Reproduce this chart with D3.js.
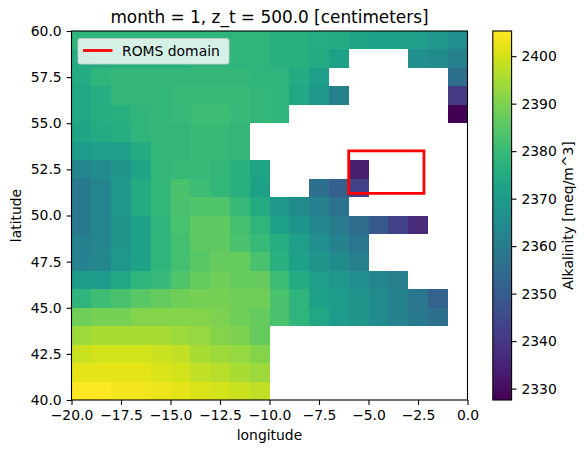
<!DOCTYPE html>
<html>
<head>
<meta charset="utf-8">
<script src="https://cdn.jsdelivr.net/npm/d3@7"></script>
<style>
  html, body { margin: 0; padding: 0; background: #fff; }
  svg { display: block; }
  text { font-family: "DejaVu Sans", sans-serif; fill: #000; }
</style>
</head>
<body>
<svg id="chart" width="586" height="454"></svg>
<script>
// Cell edges of the 1-degree grid
const lonEdges = d3.range(-20, 1, 1);
const latEdges = d3.range(60, 39, -1);

// Alkalinity per cell, north to south, west to east; null = land
const _ = null;
const row60 = [2378,2378,2378,2378,2378,2378,2378,2378,2378,2378,2377,2377,2376,2375,2373,2372,2372,2371,2369,2366];
const row59 = [2375,2376,2377,2377,2377,2377,2378,2378,2378,2378,2377,2377,2375,2372,_,_,_,2366,2365,2362];
const row58 = [2375,2378,2379,2379,2379,2379,2379,2379,2379,2378,2378,2375,2371,_,_,_,_,_,_,2356];
const row57 = [2374,2376,2379,2379,2379,2380,2380,2380,2380,2379,2378,2374,2369,2361,_,_,_,_,_,2341];
const row56 = [2374,2376,2377,2378,2379,2380,2381,2381,2380,2379,2378,_,_,_,_,_,_,_,_,2327.6];
const row55 = [2373,2375,2376,2378,2379,2379,2380,2380,2379,_,_,_,_,_,_,_,_,_,_,_];
const row54 = [2370,2371,2371,2375,2379,2379,2380,2380,2379,_,_,_,_,_,_,_,_,_,_,_];
const row53 = [2363,2365,2368,2373,2379,2380,2380,2379,2377,2373,_,_,_,_,2334,_,_,_,_,_];
const row52 = [2359,2363,2369,2375,2379,2383,2381,2379,2377,2372,_,_,2356,2351,2343,_,_,_,_,_];
const row51 = [2359,2363,2369,2375,2379,2383,2384,2384,2380,2375,2369,2365,2361,2357,_,_,_,_,_,_];
const row50 = [2359,2363,2368,2372,2378,2383,2386,2386,2382,2378,2372,2368,2364,2360,2355,2349,2343,2337,_,_];
const row49 = [2361,2363,2368,2372,2378,2382,2386,2386,2383,2380,2376,2371,2366,2362,2358,_,_,_,_,_];
const row48 = [2362,2364,2369,2372,2378,2382,2385,2387,2387,2383,2377,2372,2368,2365,2361,_,_,_,_,_];
const row47 = [2370,2370,2374,2378,2380,2384,2387,2388,2387,2387,2381,2375,2371,2369,2366,2363,2361,_,_,_];
const row46 = [2378,2381,2383,2385,2387,2388,2389,2389,2388,2388,2383,2378,2372,2370,2368,2365,2362,2358,2352,_];
const row45 = [2388,2389,2389,2391,2391,2391,2391,2390,2388,2387,2383,2378,2374,2370,2368,2365,2362,2359,2356,_];
const row44 = [2394,2395,2395,2395,2395,2394,2393,2391,2390,2387,_,_,_,_,_,_,_,_,_,_];
const row43 = [2399,2400,2400,2400,2399,2398,2395,2394,2393,2391,_,_,_,_,_,_,_,_,_,_];
const row42 = [2402,2402,2402,2402,2401,2400,2398,2397,2395,2394,_,_,_,_,_,_,_,_,_,_];
const row41 = [2405,2405,2404,2404,2403,2402,2401,2400,2399,2398,_,_,_,_,_,_,_,_,_,_];
const alkalinity = [row60,row59,row58,row57,row56,row55,row54,row53,row52,row51,
                    row50,row49,row48,row47,row46,row45,row44,row43,row42,row41];

// Outline of the model domain
const domainLon = [-6, -2.2, -2.2, -6, -6];
const domainLat = [53.5, 53.5, 51.2, 51.2, 53.5];

const xTicks = [-20, -17.5, -15, -12.5, -10, -7.5, -5, -2.5, 0];
const yTicks = [40, 42.5, 45, 47.5, 50, 52.5, 55, 57.5, 60];
const cbarTicks = [2330, 2340, 2350, 2360, 2370, 2380, 2390, 2400];
const colorDomain = [2327.6, 2405.3];

const titleText = "month = 1, z_t = 500.0 [centimeters]";
const xLabel = "longitude";
const yLabel = "latitude";
const cbarLabel = "Alkalinity [meq/m^3]";
const legendLabel = "ROMS domain";

const plot = { left: 71.5, right: 467.5, top: 31, bottom: 400 };
const cbar = { left: 492.8, right: 511.6 };
const tickFont = 13.9;

const svg = d3.select("#chart");
const x = d3.scaleLinear().domain([-20, 0]).range([plot.left, plot.right]);
const y = d3.scaleLinear().domain([40, 60]).range([plot.bottom, plot.top]);
const color = d3.scaleSequential(d3.interpolateViridis).domain(colorDomain);

// Heatmap cells
const cells = alkalinity.flatMap((row, r) => row.map((v, c) => ({ v, r, c }))).filter(d => d.v !== null);
svg.append("g").attr("shape-rendering", "crispEdges")
  .selectAll("rect").data(cells).join("rect")
  .attr("x", d => x(lonEdges[d.c]))
  .attr("y", d => y(latEdges[d.r]))
  .attr("width", d => x(lonEdges[d.c + 1]) - x(lonEdges[d.c]))
  .attr("height", d => y(latEdges[d.r + 1]) - y(latEdges[d.r]))
  .attr("fill", d => color(d.v));

// Domain rectangle
const domainLine = d3.line().x(d => x(d[0])).y(d => y(d[1]));
svg.append("path")
  .datum(d3.zip(domainLon, domainLat))
  .attr("d", domainLine)
  .attr("fill", "none").attr("stroke", "#ff0000").attr("stroke-width", 2.78)
  .attr("stroke-linejoin", "miter").attr("stroke-linecap", "square");

// Axis styling shared by the plot and the colorbar
const fmtMinus = d => d3.format(".1f")(d).replace("-", "\u2212");
function styleAxis(g) {
  g.selectAll("text").attr("font-size", tickFont).style("font-family", '"DejaVu Sans", sans-serif').attr("fill", "#000");
  g.selectAll("line").attr("stroke", "#000").attr("stroke-width", 1.1);
  g.select(".domain").remove();
}

svg.append("g").attr("transform", `translate(0,${plot.bottom})`)
  .call(d3.axisBottom(x).tickValues(xTicks).tickFormat(fmtMinus).tickSize(4.9).tickPadding(4.9))
  .call(styleAxis);
svg.append("g").attr("transform", `translate(${plot.left},0)`)
  .call(d3.axisLeft(y).tickValues(yTicks).tickFormat(fmtMinus).tickSize(4.9).tickPadding(4.9))
  .call(styleAxis);

// Plot frame
svg.append("rect")
  .attr("x", plot.left).attr("y", plot.top)
  .attr("width", plot.right - plot.left).attr("height", plot.bottom - plot.top)
  .attr("fill", "none").attr("stroke", "#000").attr("stroke-width", 1.1);

// Legend
const legend = svg.append("g");
legend.append("rect")
  .attr("x", 78).attr("y", 38.5).attr("width", 151).attr("height", 25.5).attr("rx", 2.8)
  .attr("fill", "#fff").attr("fill-opacity", 0.8)
  .attr("stroke", "#ccc").attr("stroke-opacity", 0.8).attr("stroke-width", 1.1);
legend.append("line")
  .attr("x1", 83).attr("x2", 112.5).attr("y1", 50.5).attr("y2", 50.5)
  .attr("stroke", "#ff0000").attr("stroke-width", 2.78);
legend.append("text").attr("x", 122).attr("y", 55.5).attr("font-size", tickFont).text(legendLabel);

// Titles
svg.append("text").attr("x", (plot.left + plot.right) / 2).attr("y", 23)
  .attr("text-anchor", "middle").attr("font-size", 16.9).text(titleText);
svg.append("text").attr("x", (plot.left + plot.right) / 2).attr("y", 440)
  .attr("text-anchor", "middle").attr("font-size", tickFont).text(xLabel);
svg.append("text").attr("transform", `translate(21,${(plot.top + plot.bottom) / 2}) rotate(-90)`)
  .attr("text-anchor", "middle").attr("font-size", tickFont).text(yLabel);

// Colorbar
const cbarScale = d3.scaleLinear().domain(colorDomain).range([plot.bottom, plot.top]);
const bandStep = (colorDomain[1] - colorDomain[0]) / 256;
const bandValues = d3.range(256).map(i => colorDomain[0] + bandStep * i);
svg.append("g").attr("shape-rendering", "crispEdges").selectAll("rect").data(bandValues).join("rect")
  .attr("x", cbar.left).attr("width", cbar.right - cbar.left)
  .attr("y", d => cbarScale(d + bandStep))
  .attr("height", d => cbarScale(d) - cbarScale(d + bandStep) + 0.4)
  .attr("fill", d => color(d + bandStep / 2));
svg.append("rect")
  .attr("x", cbar.left).attr("y", plot.top)
  .attr("width", cbar.right - cbar.left).attr("height", plot.bottom - plot.top)
  .attr("fill", "none").attr("stroke", "#000").attr("stroke-width", 1.1);
svg.append("g").attr("transform", `translate(${cbar.right},0)`)
  .call(d3.axisRight(cbarScale).tickValues(cbarTicks).tickFormat(d3.format("d")).tickSize(4.9).tickPadding(4.9))
  .call(styleAxis);
svg.append("text").attr("transform", `translate(573,${(plot.top + plot.bottom) / 2}) rotate(-90)`)
  .attr("text-anchor", "middle").attr("font-size", tickFont).text(cbarLabel);
</script>
</body>
</html>
